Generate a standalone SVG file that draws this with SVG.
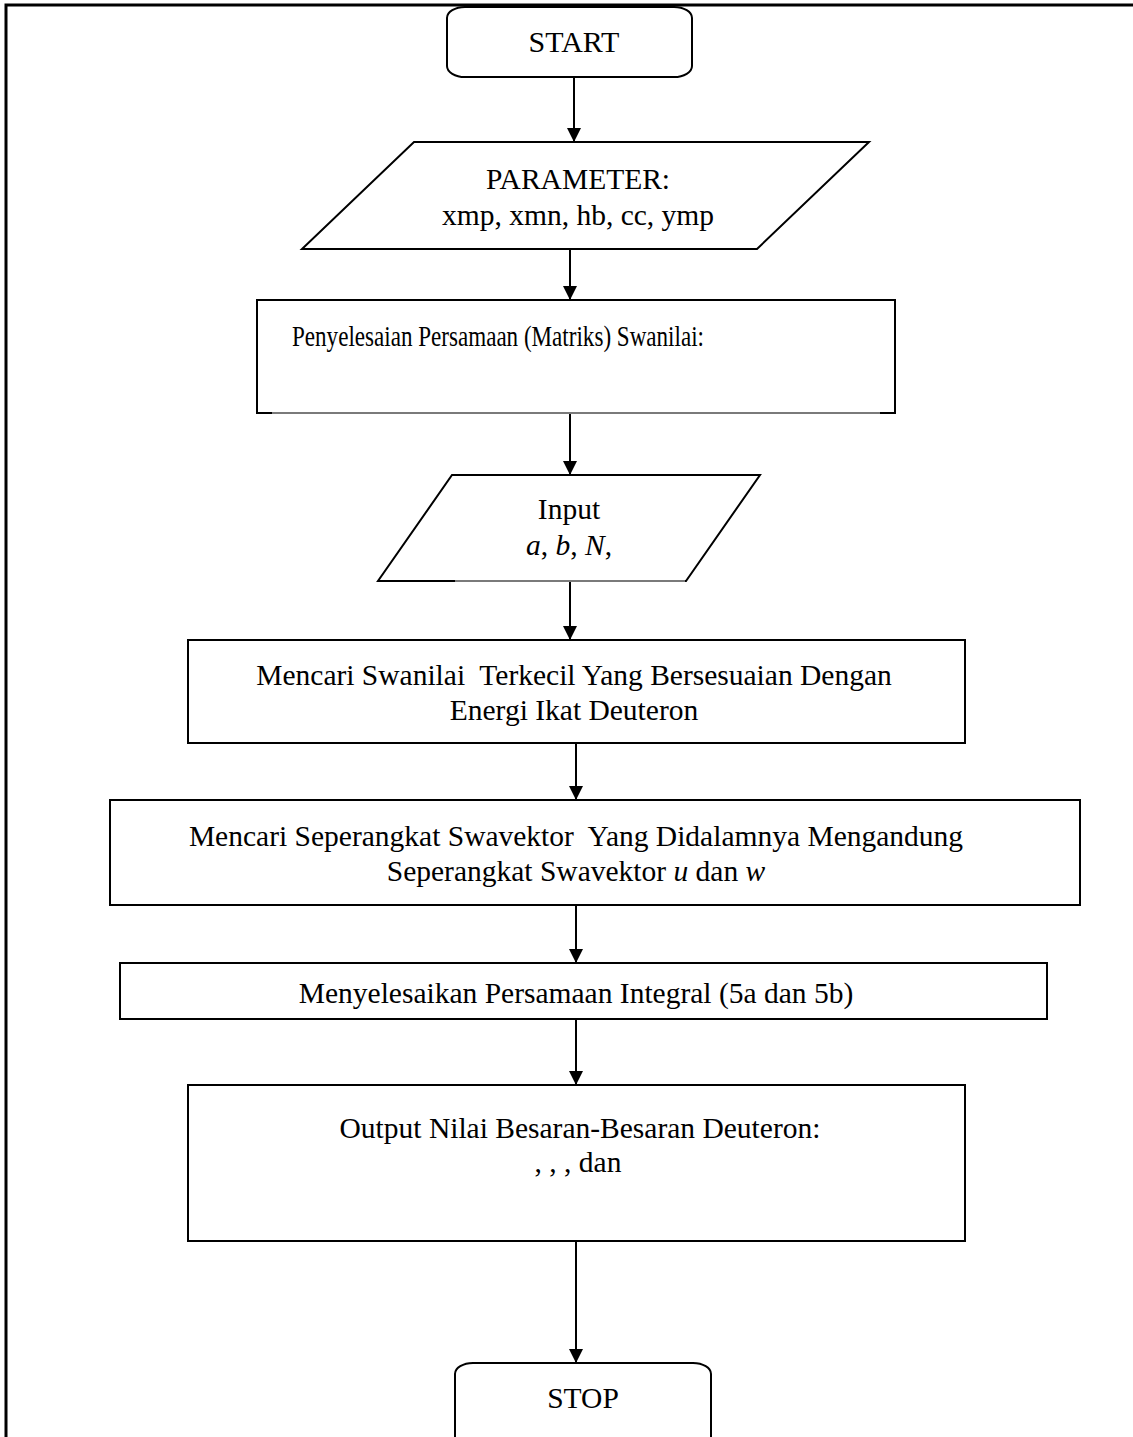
<svg xmlns="http://www.w3.org/2000/svg" width="1133" height="1437" viewBox="0 0 1133 1437">
<defs>
<marker id="arr" markerWidth="16" markerHeight="16" refX="14" refY="7" orient="auto" markerUnits="userSpaceOnUse">
<path d="M0,0 L14,7 L0,14 Z" fill="#000"/>
</marker>
<style>
.s{fill:#fff;stroke:#000;stroke-width:2}
.g{stroke:#7a7a7a;stroke-width:2;fill:none}
.t{font-family:"Liberation Serif","Times New Roman",serif;font-size:29.5px;fill:#000;text-anchor:middle}
.c{stroke:#000;stroke-width:2;fill:none;marker-end:url(#arr)}
</style>
</defs>
<rect width="1133" height="1437" fill="#fff"/>
<path d="M6,1437 L6,5 L1133,5" fill="none" stroke="#000" stroke-width="3"/>
<g id="connectors">
<line class="c" x1="574" y1="78" x2="574" y2="142"/>
<line class="c" x1="570" y1="249" x2="570" y2="300"/>
<line class="c" x1="570" y1="413" x2="570" y2="475"/>
<line class="c" x1="570" y1="581" x2="570" y2="640"/>
<line class="c" x1="576" y1="743" x2="576" y2="800"/>
<line class="c" x1="576" y1="905" x2="576" y2="963"/>
<line class="c" x1="576" y1="1019" x2="576" y2="1085"/>
<line class="c" x1="576" y1="1241" x2="576" y2="1363"/>
</g>
<g id="start">
<rect class="s" x="447" y="7" width="245" height="70" rx="18" ry="11"/>
<text class="t" x="574" y="52" style="font-size:30px">START</text>
</g>
<g id="parameter">
<polygon class="s" points="414,142 869,142 757,249 302,249"/>
<text class="t" x="578" y="189">PARAMETER:</text>
<text class="t" x="578" y="225">xmp, xmn, hb, cc, ymp</text>
</g>
<g id="penyelesaian">
<rect class="s" x="257" y="300" width="638" height="113"/>
<line class="g" x1="272" y1="413" x2="880" y2="413"/>
<text class="t" x="292" y="346" style="text-anchor:start" textLength="412" lengthAdjust="spacingAndGlyphs">Penyelesaian Persamaan (Matriks) Swanilai:</text>
</g>
<g id="input">
<polygon class="s" points="452,475 760,475 686,581 378,581"/>
<line class="g" x1="455" y1="581" x2="685" y2="581"/>
<text class="t" x="569" y="519">Input</text>
<text class="t" x="569" y="555" xml:space="preserve"><tspan font-style="italic">a</tspan>, <tspan font-style="italic">b</tspan>, <tspan font-style="italic">N</tspan>,</text>
</g>
<g id="swanilai">
<rect class="s" x="188" y="640" width="777" height="103"/>
<text class="t" x="574" y="685" xml:space="preserve">Mencari Swanilai  Terkecil Yang Bersesuaian Dengan</text>
<text class="t" x="574" y="720">Energi Ikat Deuteron</text>
</g>
<g id="swavektor">
<rect class="s" x="110" y="800" width="970" height="105"/>
<text class="t" x="576" y="846" xml:space="preserve">Mencari Seperangkat Swavektor  Yang Didalamnya Mengandung</text>
<text class="t" x="576" y="881" xml:space="preserve">Seperangkat Swavektor <tspan font-style="italic">u</tspan> dan <tspan font-style="italic">w</tspan></text>
</g>
<g id="integral">
<rect class="s" x="120" y="963" width="927" height="56"/>
<text class="t" x="576" y="1003">Menyelesaikan Persamaan Integral (5a dan 5b)</text>
</g>
<g id="output">
<rect class="s" x="188" y="1085" width="777" height="156"/>
<text class="t" x="580" y="1138">Output Nilai Besaran-Besaran Deuteron:</text>
<text class="t" x="578" y="1172">, , , dan</text>
</g>
<g id="stop">
<rect class="s" x="455" y="1363" width="256" height="90" rx="18" ry="11"/>
<text class="t" x="583" y="1408">STOP</text>
</g>
</svg>
